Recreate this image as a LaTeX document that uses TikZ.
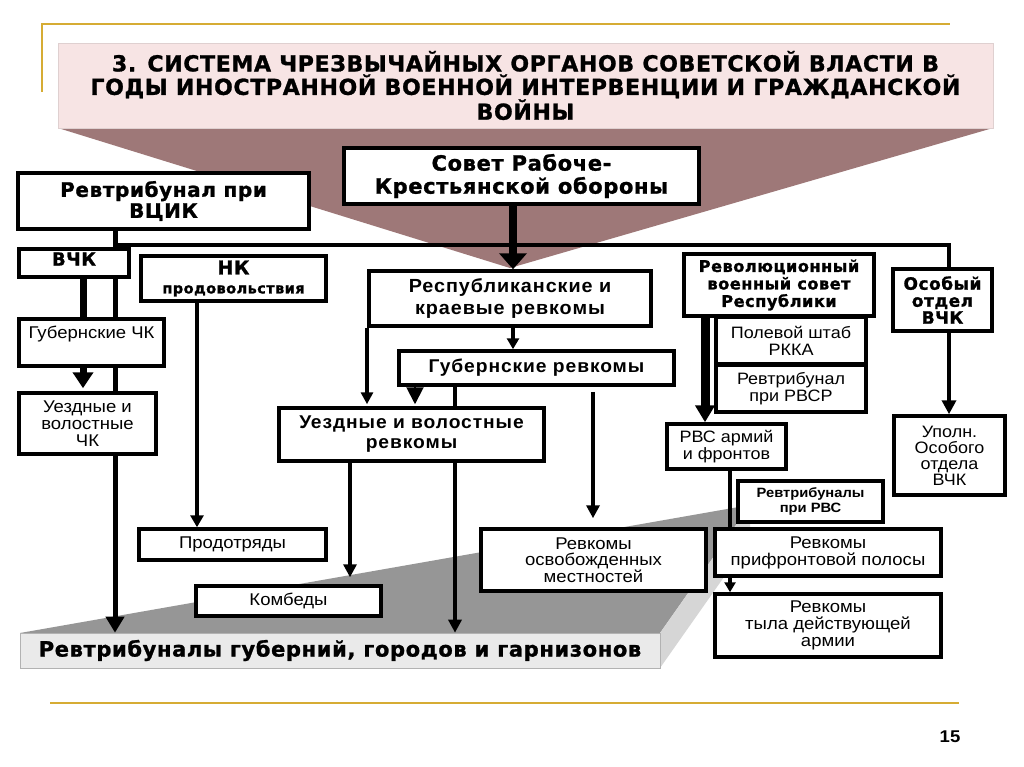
\documentclass[tikz,border=0pt]{standalone}
\usepackage{fontspec}
\setmainfont{Liberation Sans}[FakeStretch=1.09]
\newfontfamily\blk{DejaVu Sans}[LetterSpace=3, BoldFeatures={FakeBold=1.2}]
\newfontfamily\arb{Liberation Sans}[LetterSpace=5, FakeStretch=1.04]
\usetikzlibrary{arrows.meta}
\pgfdeclarelayer{bg}
\pgfdeclarelayer{lines}
\pgfsetlayers{bg,lines,main}
\definecolor{pinkbg}{RGB}{247,228,228}
\definecolor{mauve}{RGB}{158,120,120}
\definecolor{gold}{RGB}{214,172,52}
\definecolor{slabtop}{RGB}{150,150,150}
\definecolor{slabside}{RGB}{214,214,214}
\definecolor{slabfront}{RGB}{234,234,234}
\newcommand\fs[2]{\fontsize{#1}{#2}\selectfont}
\newcommand\bx[7][]{\node[box, minimum width={(#5)-(#3)}, minimum height={(#6)-(#4)}, #1] (#2) at ({((#3)+(#5))/2},{((#4)+(#6))/2}) {#7};}
\begin{document}
\begin{tikzpicture}[x=1pt,y=-1pt,
  box/.style={draw, line width=3.5pt, fill=white, inner sep=0pt, align=center, text=black},
  conn/.style={line width=4pt}]
\useasboundingbox (0,0) rectangle (1024,767);

% ---------- background layer ----------
\begin{pgfonlayer}{bg}
\fill[white] (0,0) rectangle (1024,767);
\draw[gold, line width=2pt] (42,92) -- (42,24) -- (950,24);
\draw[gold, line width=2.5pt] (50,703) -- (959,703);
\fill[mauve] (58,128) -- (993,128) -- (510,268) -- cycle;
\node[fill=pinkbg, draw=pinkbg!80!gray, line width=0.6pt, minimum width=935, minimum height=85, inner sep=0pt, align=center,
      font=\blk\bfseries\fs{22}{23.5}] (title) at (525.5,85.5)
  {3. СИСТЕМА ЧРЕЗВЫЧАЙНЫХ ОРГАНОВ СОВЕТСКОЙ ВЛАСТИ В\\ГОДЫ ИНОСТРАННОЙ ВОЕННОЙ ИНТЕРВЕНЦИИ И ГРАЖДАНСКОЙ\\ВОЙНЫ};
% 3D slab
\fill[slabtop] (20,633) -- (660,633) -- (750,505) -- cycle;
\fill[slabside] (660,633) -- (750,505) -- (750,540) -- (660,668) -- cycle;
\node[fill=slabfront, draw=gray!60, line width=0.6pt, minimum width=640, minimum height=35, inner sep=0pt,
      font=\blk\bfseries\fs{21}{22}] (slab) at (340,650.5)
  {Ревтрибуналы губерний, городов и гарнизонов};
\node[font=\bfseries\fs{17}{19}] (page) at (950,737) {15};
\end{pgfonlayer}

% ---------- boxes ----------
\bx[font=\blk\bfseries\fs{20}{21}]{vcik}{18}{173}{309}{229}{Ревтрибунал при\\ВЦИК}
\bx[font=\blk\bfseries\fs{21}{23}]{sovet}{344}{148}{699}{204}{Совет Рабоче-\\Крестьянской обороны}
\bx[font=\blk\bfseries\fs{18}{19}, text depth=8pt]{vchk}{19}{249}{129}{277}{ВЧК}
\bx[font=\blk\bfseries\fs{19}{20}]{nk}{141}{256}{326}{301}{НК\\[-1pt]{\fs{14.5}{17}продовольствия}}
\bx[font=\fs{17}{18}, text depth=21pt]{gubchk}{19}{319}{164}{366}{Губернские ЧК}
\bx[font=\fs{17}{17}]{uezdchk}{19}{393}{156}{454}{Уездные и\\волостные\\ЧК}
\bx[font=\arb\bfseries\fs{19}{22}]{respub}{369}{271}{651}{326}{Республиканские и\\краевые ревкомы}
\bx[font=\arb\bfseries\fs{18.5}{20}]{gubrev}{399}{351}{674}{385}{Губернские ревкомы}
\bx[font=\arb\bfseries\fs{18.5}{20}]{uezdrev}{279}{408}{544}{461}{Уездные и волостные\\ревкомы}
\bx[font=\fs{17}{18}]{prod}{139}{529}{326}{560}{Продотряды}
\bx[font=\fs{17}{18}]{kombed}{196}{586}{381}{616}{Комбеды}
\bx[font=\fs{17}{16.5}]{osvob}{481}{529}{706}{591}{Ревкомы\\освобожденных\\местностей}
\bx[font=\blk\bfseries\fs{16.2}{17.5}]{rvsr}{684}{254}{874}{316}{Революционный\\военный совет\\Республики}
\bx[font=\fs{16.5}{17}]{polev}{716}{317}{866}{364}{Полевой штаб\\РККА}
\bx[font=\fs{16.5}{17}]{tribrvsr}{716}{365}{866}{412}{Ревтрибунал\\при РВСР}
\bx[font=\fs{16.5}{17}]{rvsarm}{667}{424}{786}{469}{РВС армий\\и фронтов}
\bx[font=\bfseries\fs{13.5}{15}]{tribrvs}{738}{481}{883}{522}{Ревтрибуналы\\при РВС}
\bx[font=\fs{17}{17}]{prifr}{715}{529}{941}{576}{Ревкомы\\прифронтовой полосы}
\bx[font=\fs{17}{17}]{tyl}{715}{594}{941}{657}{Ревкомы\\тыла действующей\\армии}
\bx[font=\blk\bfseries\fs{17}{17}]{osob}{893}{269}{992}{331}{Особый\\отдел\\ВЧК}
\bx[font=\fs{16.5}{16}]{upoln}{894}{416}{1005}{495}{Уполн.\\Особого\\отдела\\ВЧК}

% ---------- connectors ----------
\coordinate (xA) at (115,0);
\coordinate (xB) at (83,0);
\coordinate (xC) at (197,0);
\coordinate (xD) at (513,0);
\coordinate (xE) at (367,0);
\coordinate (xF) at (415,0);
\coordinate (xG) at (455,0);
\coordinate (xH) at (350,0);
\coordinate (xI) at (593,0);
\coordinate (xJ) at (705,0);
\coordinate (xK) at (730,0);
\coordinate (xO) at (949,0);
\coordinate (bus) at (0,245);
\begin{pgfonlayer}{lines}
\draw[line width=5pt, -{Triangle[width=18pt,length=16pt]}] (vcik.south -| xA) -- (slab.north -| xA);
\draw[line width=4pt] (xA |- bus) -- (bus -| xO) -- (osob.north -| xO);
\draw[line width=7pt] (vchk.south -| xB) -- (gubchk.north -| xB);
\draw[line width=7pt, -{Triangle[width=20pt,length=16pt]}, shorten >=3pt] (gubchk.south -| xB) -- (uezdchk.north -| xB);
\draw[conn, -{Triangle[width=13pt,length=12pt]}] (nk.south -| xC) -- (prod.north -| xC);
\draw[line width=8pt, -{Triangle[width=27pt,length=16pt]}] (sovet.south -| xD) -- (respub.north -| xD);
\draw[conn, -{Triangle[width=12pt,length=11pt]}] (respub.south -| xD) -- (gubrev.north -| xD);
\draw[conn, -{Triangle[width=12pt,length=12pt]}, shorten >=2pt] (respub.south -| xE) -- (uezdrev.north -| xE);
\draw[line width=2pt, -{Triangle[width=17pt,length=17pt]}, shorten >=2pt] (gubrev.south -| xF) -- (uezdrev.north -| xF);
\draw[conn, -{Triangle[width=13pt,length=13pt]}] (gubrev.south -| xG) -- (slab.north -| xG);
\draw[conn, -{Triangle[width=13pt,length=13pt]}, shorten >=7pt] (uezdrev.south -| xH) -- (kombed.north -| xH);
\draw[conn, -{Triangle[width=13pt,length=13pt]}, shorten >=9pt, shorten <=5pt] (gubrev.south -| xI) -- (osvob.north -| xI);
\draw[line width=9pt, -{Triangle[width=19pt,length=17pt]}] (rvsr.south -| xJ) -- (rvsarm.north -| xJ);
\draw[conn, -{Triangle[width=11pt,length=10pt]}] (rvsarm.south -| xK) -- (tyl.north -| xK);
\draw[conn, -{Triangle[width=14pt,length=14pt]}] (osob.south -| xO) -- (upoln.north -| xO);
\end{pgfonlayer}
\end{tikzpicture}
\end{document}
